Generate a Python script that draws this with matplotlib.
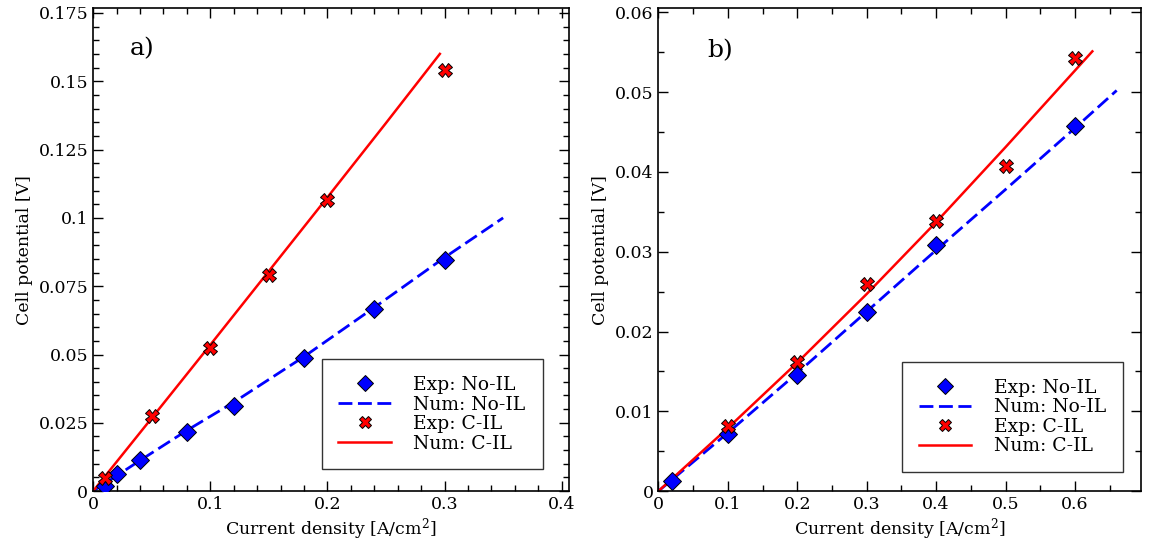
import matplotlib.pyplot as plt
from matplotlib.ticker import MultipleLocator

plt.rcParams['font.family'] = ['DejaVu Serif']
plt.rcParams['mathtext.fontset'] = 'dejavuserif'

# a) panel data
a_exp_noil_x = [0.01, 0.02, 0.04, 0.08, 0.12, 0.18, 0.24, 0.30]
a_exp_noil_y = [0.0019, 0.0064, 0.0113, 0.0218, 0.0313, 0.0487, 0.0668, 0.0846]
a_num_noil_x = [0, 0.04, 0.08, 0.12, 0.18, 0.24, 0.30, 0.35]
a_num_noil_y = [0, 0.0112, 0.0222, 0.0325, 0.0492, 0.0672, 0.0855, 0.1000]
a_exp_cil_x = [0.01, 0.05, 0.10, 0.15, 0.20, 0.30]
a_exp_cil_y = [0.0049, 0.0274, 0.0523, 0.0790, 0.1066, 0.1540]
a_num_cil_x = [0, 0.05, 0.10, 0.15, 0.20, 0.25, 0.296]
a_num_cil_y = [0, 0.0267, 0.0535, 0.0805, 0.1075, 0.1347, 0.1600]

# b) panel data
b_exp_noil_x = [0.02, 0.1, 0.2, 0.3, 0.4, 0.6]
b_exp_noil_y = [0.0013, 0.0072, 0.0146, 0.0224, 0.0309, 0.0458]
b_num_noil_x = [0, 0.1, 0.2, 0.3, 0.4, 0.5, 0.6, 0.66]
b_num_noil_y = [0, 0.0073, 0.0148, 0.0225, 0.0302, 0.0378, 0.0455, 0.0502]
b_exp_cil_x = [0.1, 0.2, 0.3, 0.4, 0.5, 0.6]
b_exp_cil_y = [0.0081, 0.0162, 0.0260, 0.0339, 0.0407, 0.0543]
b_num_cil_x = [0, 0.1, 0.2, 0.3, 0.4, 0.5, 0.625]
b_num_cil_y = [0, 0.0079, 0.0161, 0.0247, 0.0337, 0.0431, 0.0551]

labels = ['Exp: No-IL', 'Num: No-IL', 'Exp: C-IL', 'Num: C-IL']

fig = plt.figure(figsize=(11.49, 5.5), dpi=100)
ax1 = fig.add_axes([0.081, 0.107, 0.414, 0.878])
ax2 = fig.add_axes([0.573, 0.107, 0.420, 0.878])


def draw(ax, d, leg_anchor):
    ex1x, ex1y, n1x, n1y, ex2x, ex2y, n2x, n2y = d
    ax.plot(n1x, n1y, color='blue', lw=2, dashes=(5, 2), label=labels[1], zorder=2)
    ax.plot(n2x, n2y, color='red', lw=1.8, label=labels[3], zorder=2)
    ax.plot(ex1x, ex1y, 'D', color='blue', mec='black', mew=0.7, ms=9,
            ls='none', label=labels[0], zorder=3)
    ax.plot(ex2x, ex2y, 'X', color='red', mec='black', mew=0.7, ms=10,
            ls='none', label=labels[2], zorder=3)
    h, l = ax.get_legend_handles_labels()
    order = [l.index(s) for s in labels]
    leg = ax.legend([h[i] for i in order], [l[i] for i in order],
                    loc='lower right', bbox_to_anchor=leg_anchor, fontsize=13.5,
                    fancybox=False, edgecolor='#333333', framealpha=1,
                    handlelength=2.8, handletextpad=1.2, labelspacing=0.08,
                    borderpad=0.9, borderaxespad=0, markerscale=0.9)
    leg.get_frame().set_linewidth(1.0)
    ax.tick_params(which='both', direction='in', top=True, right=True,
                   labelsize=12.5, width=1)
    ax.tick_params(which='major', length=7)
    ax.tick_params(which='minor', length=4)
    for s in ax.spines.values():
        s.set_linewidth(1.2)
    ax.set_xlabel('Current density [A/cm$^2$]', fontsize=12.5, labelpad=2)
    ax.set_ylabel('Cell potential [V]', fontsize=12.5, labelpad=4)


draw(ax1, (a_exp_noil_x, a_exp_noil_y, a_num_noil_x, a_num_noil_y,
           a_exp_cil_x, a_exp_cil_y, a_num_cil_x, a_num_cil_y), (0.945, 0.045))
draw(ax2, (b_exp_noil_x, b_exp_noil_y, b_num_noil_x, b_num_noil_y,
           b_exp_cil_x, b_exp_cil_y, b_num_cil_x, b_num_cil_y), (0.963, 0.039))

ax1.set_xlim(0, 0.406)
ax1.set_ylim(0, 0.1767)
ax1.xaxis.set_minor_locator(MultipleLocator(0.02))
ax1.yaxis.set_minor_locator(MultipleLocator(0.005))
ax1.set_xticks([0, 0.1, 0.2, 0.3, 0.4], ['0', '0.1', '0.2', '0.3', '0.4'])
ax1.set_yticks([0, 0.025, 0.05, 0.075, 0.1, 0.125, 0.15, 0.175],
               ['0', '0.025', '0.05', '0.075', '0.1', '0.125', '0.15', '0.175'])
ax1.text(0.077, 0.903, 'a)', transform=ax1.transAxes, fontsize=18)

ax2.set_xlim(0, 0.695)
ax2.set_ylim(0, 0.0605)
ax2.xaxis.set_minor_locator(MultipleLocator(0.05))
ax2.yaxis.set_minor_locator(MultipleLocator(0.005))
ax2.set_xticks([0, 0.1, 0.2, 0.3, 0.4, 0.5, 0.6],
               ['0', '0.1', '0.2', '0.3', '0.4', '0.5', '0.6'])
ax2.set_yticks([0, 0.01, 0.02, 0.03, 0.04, 0.05, 0.06],
               ['0', '0.01', '0.02', '0.03', '0.04', '0.05', '0.06'])
ax2.text(0.102, 0.898, 'b)', transform=ax2.transAxes, fontsize=18)

fig.savefig('out.png', dpi=100)
